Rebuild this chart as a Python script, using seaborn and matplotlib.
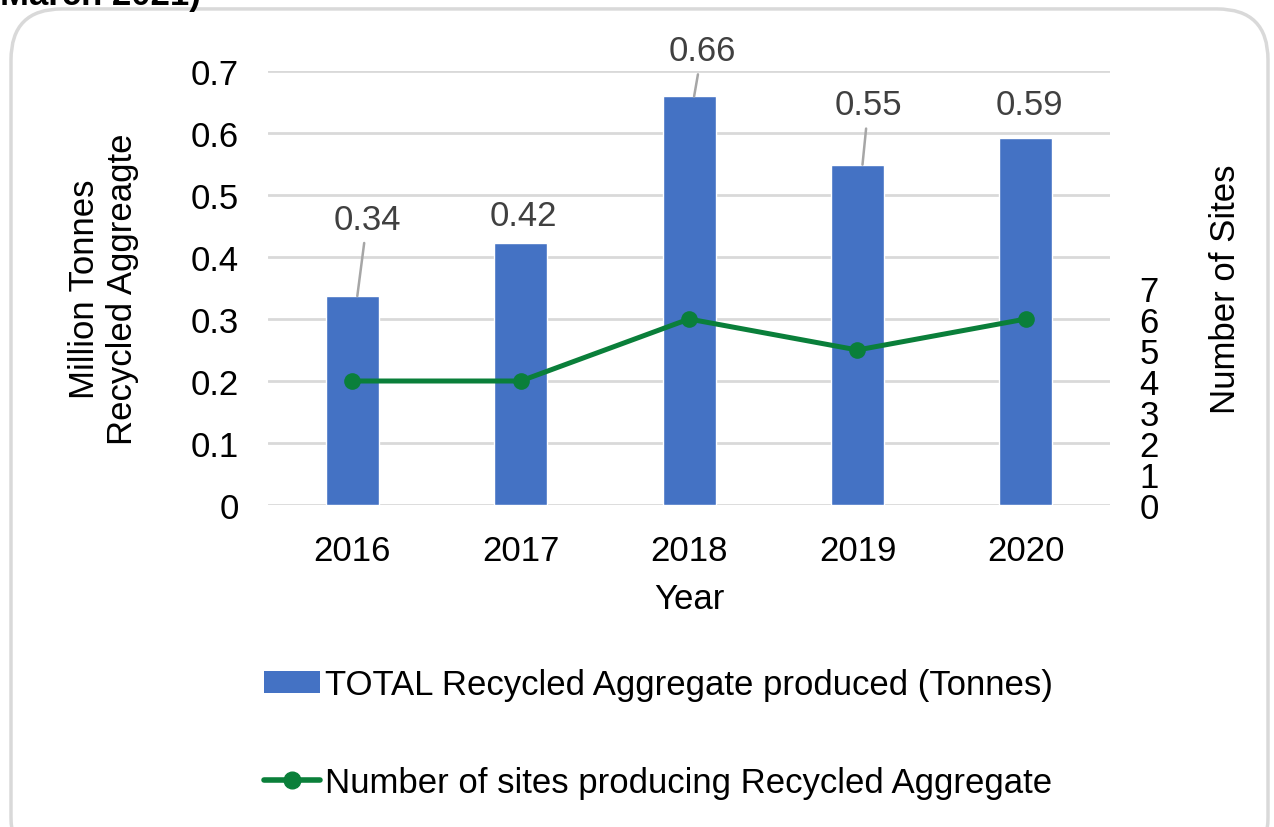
import numpy as np
import pandas as pd
import matplotlib
matplotlib.use("Agg")
import matplotlib.pyplot as plt
from matplotlib.patches import FancyBboxPatch, Patch
from matplotlib.lines import Line2D
import seaborn as sns

# data
years = ["2016", "2017", "2018", "2019", "2020"]
tonnes = [0.337, 0.422, 0.659, 0.549, 0.592]     # million tonnes
labels = ["0.34", "0.42", "0.66", "0.55", "0.59"]
sites = [4, 4, 6, 5, 6]

bar_color = "#4472C4"
line_color = "#0A7F3A"
grid_color = "#D9D9D9"

sns.set_style("white")
plt.rcParams["font.family"] = ["Liberation Sans", "DejaVu Sans"]
plt.rcParams["font.size"] = 25
plt.rcParams["text.color"] = "black"
plt.rcParams["axes.labelcolor"] = "black"
plt.rcParams["xtick.color"] = "black"
plt.rcParams["ytick.color"] = "black"

fig = plt.figure(figsize=(12.74, 8.28), dpi=100)
ax = fig.add_axes([0.2104, 0.3889, 0.6609, 0.5241])

df = pd.DataFrame({"year": years, "tonnes": tonnes})
sns.barplot(data=df, x="year", y="tonnes", color=bar_color, width=0.315,
            saturation=1, ax=ax, zorder=3)
ax.set_xlim(-0.5, len(years) - 0.5)
ax.set_ylim(0, 0.7)
ax.set_yticks(np.arange(0, 0.71, 0.1))
ax.set_yticklabels(["0"] + [f"{v:.1f}" for v in np.arange(0.1, 0.71, 0.1)])
ax.grid(axis="y", color=grid_color, linewidth=2, zorder=0)
for s in ax.spines.values():
    s.set_visible(False)
ax.tick_params(length=0, pad=21, labelsize=25)
ax.tick_params(axis="x", pad=21)
ax.set_xlabel("Year", fontsize=25, labelpad=11)
ax.set_ylabel("Million Tonnes\nRecycled Aggreagte", fontsize=25, labelpad=37)

# data labels (offsets in pixels from bar top); some have leader lines
offsets = [(10, 77, True), (3, 28, False), (8, 46, True), (6, 60, True), (4, 33, False)]
for i, (v, lab) in enumerate(zip(tonnes, labels)):
    dx, dy, leader = offsets[i]
    ax.annotate(lab, xy=(i + (0.03 if leader else 0), v), xytext=(dx, dy),
                textcoords="offset pixels", ha="center", va="center",
                fontsize=25, color="#404040", zorder=5,
                arrowprops=dict(arrowstyle="-", color="#A6A6A6", lw=1.8,
                                shrinkA=3, shrinkB=0) if leader else None)

# secondary axis for number of sites
ax2 = ax.twinx()
sns.lineplot(x=np.arange(len(years)), y=sites, ax=ax2, color=line_color,
             linewidth=3.6, marker="o", markersize=12, markeredgewidth=0,
             zorder=4)
ax2.set_ylim(0, 14)
ax2.set_yticks(range(0, 8))
for s in ax2.spines.values():
    s.set_visible(False)
ax2.tick_params(length=0, pad=21, labelsize=25)
ax2.set_ylabel("Number of Sites", fontsize=25)
ax2.yaxis.set_label_coords(1.118, 0.5)

# legend below the chart
handles = [Patch(facecolor=bar_color, edgecolor="none"),
           Line2D([], [], color=line_color, linewidth=4, marker="o",
                  markersize=12)]
names = ["TOTAL Recycled Aggregate produced (Tonnes)",
         "Number of sites producing Recycled Aggregate"]
fig.legend(handles, names, loc="center", bbox_to_anchor=(0.517, 0.113),
           frameon=False, fontsize=25, labelspacing=1.85, handlelength=1.6,
           handleheight=0.6, handletextpad=0.15)

# rounded frame and cut-off title (it is cut off in the reference too)
frame = FancyBboxPatch((11 / 1274, -0.05), 1257 / 1274, 1.038,
                       boxstyle="round,pad=0,rounding_size=0.04",
                       transform=fig.transFigure, facecolor="none",
                       edgecolor="#D9D9D9", linewidth=2.5, mutation_aspect=1274 / 828)
fig.patches.append(frame)
fig.text(0.0, 1 - 5 / 828, "March 2021)", fontsize=25, fontweight="bold",
         va="baseline", ha="left")

fig.savefig("out.png", dpi=100)
